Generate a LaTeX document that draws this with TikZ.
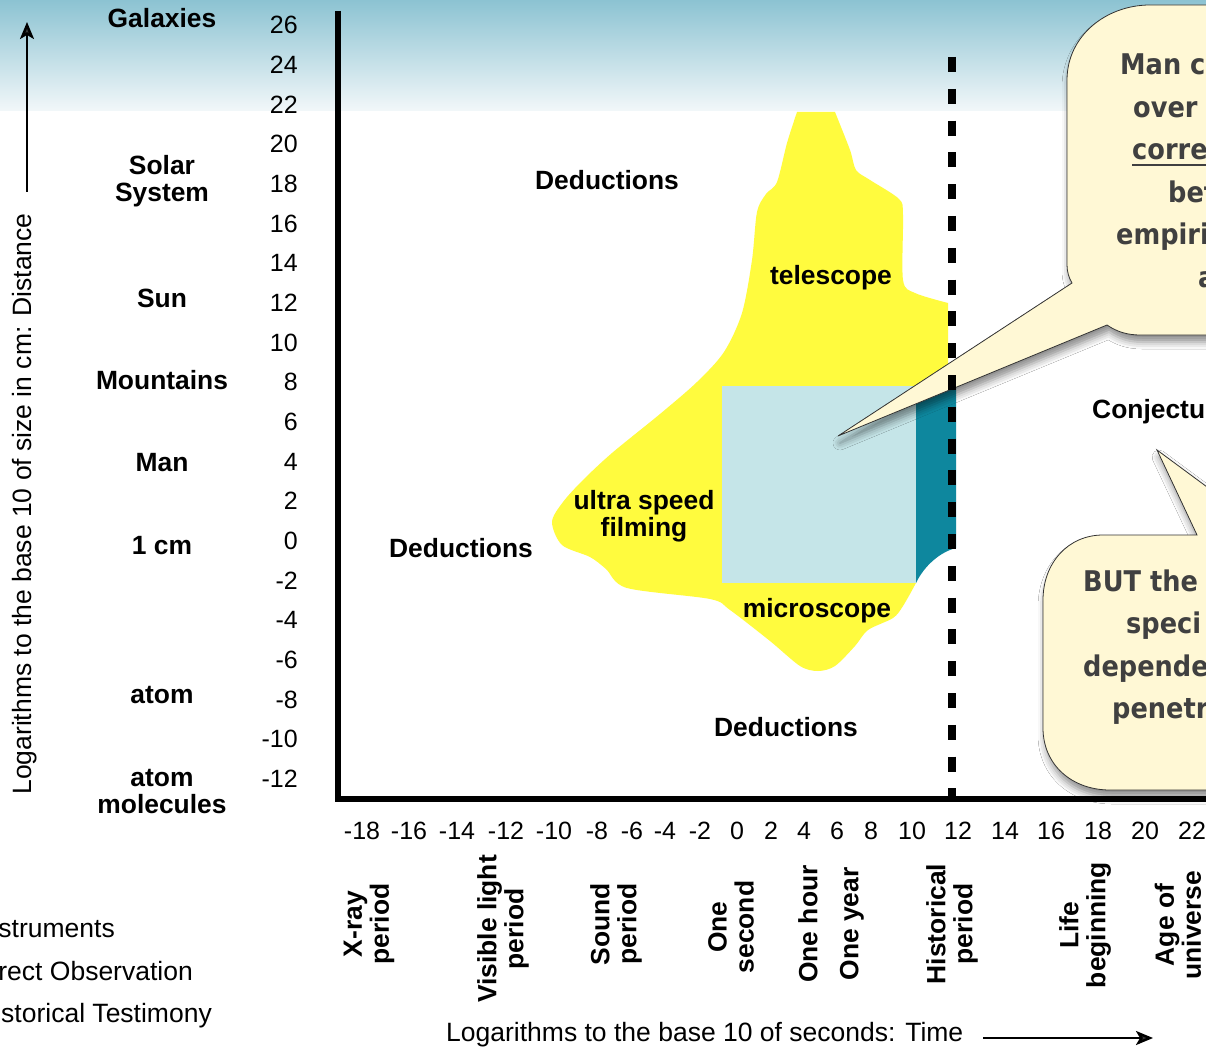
\documentclass[tikz,border=0pt]{standalone}
\usepackage{fontspec}
\setmainfont{Liberation Sans}
\newfontfamily\callfont[FakeStretch=0.9]{DejaVu Sans}
\usetikzlibrary{arrows.meta,shadows.blur}
\definecolor{yel}{RGB}{255,251,62}
\definecolor{lblue}{RGB}{197,229,232}
\definecolor{teal2}{RGB}{14,135,158}
\definecolor{cream}{RGB}{255,248,213}
\definecolor{calltext}{RGB}{64,64,64}
\definecolor{skytop}{RGB}{140,195,210}
\definecolor{skybot}{RGB}{242,247,249}
\begin{document}
\begin{tikzpicture}[x=1pt,y=-1pt,
 lab/.style={font=\fontsize{26.4}{27}\selectfont\bfseries, align=center, inner sep=0pt},
 rlab/.style={lab, rotate=90},
 num/.style={font=\fontsize{25}{26}\selectfont, inner sep=0pt},
 reg/.style={font=\fontsize{26.5}{28}\selectfont, inner sep=0pt},
 ctext/.style={font=\callfont\fontsize{28.5}{30}\selectfont\bfseries, text=calltext, anchor=base west, inner sep=0pt},
 callout/.style={fill=cream, draw=black!80, line width=0.8pt, blur shadow={shadow xshift=2pt, shadow yshift=-7pt, shadow blur radius=7pt, shadow opacity=45}},
 axisline/.style={line width=6.5pt},
 arr/.style={-{Stealth[length=17pt,width=14pt,inset=4pt]}, line width=2.5pt},
]
\useasboundingbox (0,0) rectangle (1206,1048);
\clip (0,0) rectangle (1206,1048);
\fill[white] (0,0) rectangle (1206,1048);
\shade[top color=skytop, bottom color=skybot] (0,0) rectangle (1206,111);

% instrument region
\fill[yel] plot[smooth, tension=0.5] coordinates {(948,303) (915,293) (903,280) (903,215) (899,199) (870,180) (856,170) (850,150) (835,112)}
  -- (797,112)
  -- plot[smooth, tension=0.5] coordinates {(797,112) (787,143) (777,182) (766,194) (757,212) (752,260) (742,313) (724,352) (697,382) (660,414) (612,453) (583,480) (563,502) (552,522) (562,545) (590,557) (606,569) (627,588) (710,599) (730,610) (770,641) (800,666) (818,671) (835,666) (855,646) (868,630) (893,618) (903,606) (916,583)}
  -- (935,420) -- (948,390) -- cycle;
\fill[lblue] (722,386) rectangle (916,583);
\fill[teal2] (916,386) -- (956,386) -- (956,548) .. controls (940,552) and (924,566) .. (916,583) -- cycle;

% region labels
\node[lab] (ded1) at (607,180) {Deductions};
\node[lab] (ded2) at (461,548) {Deductions};
\node[lab] (ded3) at (786,727) {Deductions};
\node[lab] (tel) at (831,278) {telescope};
\node[lab] (ultra) at (644,516) {ultra speed\\filming};
\node[lab] (micro) at (817,611) {microscope};
\node[lab, anchor=west] (conj) at (1092,412) {Conjectu};

% callouts
\path[callout] (1072,283) -- (838,436) -- (1107,325) .. controls (1117,332) and (1128,335) .. (1140,335) -- (1260,335) -- (1260,5) -- (1150,5) .. controls (1106,5) and (1067,36) .. (1067,80) -- (1067,265) .. controls (1067,272) and (1069,278) .. (1072,283) -- cycle;
\path[callout] (1043,600) .. controls (1043,563) and (1068,535) .. (1103,535) -- (1197,535) -- (1157,450) -- (1272,535) -- (1300,535) -- (1300,790) -- (1110,790) .. controls (1072,790) and (1043,765) .. (1043,728) -- cycle;

\node[ctext] (c1a) at (1120,75) {Man c};
\node[ctext] (c1b) at (1133,117.5) {over};
\node[ctext] (c1c) at (1132,160) {corre};
\node[ctext] (c1d) at (1168,202.5) {bet};
\node[ctext] (c1e) at (1116,245) {empiri};
\node[ctext] (c1f) at (1198,287.5) {a};
\draw[calltext, line width=2pt] ([yshift=-5pt]c1c.base west) -- ++(90,0);
\node[ctext] (c2a) at (1083,591) {BUT the};
\node[ctext] (c2b) at (1126,633.5) {speci};
\node[ctext] (c2c) at (1083,676) {depende};
\node[ctext] (c2d) at (1112,718.5) {penetr};

% historical limit
\coordinate (dtop) at (952,57);
\coordinate (dbot) at (952,800);
\draw[line width=8pt, dash pattern=on 15pt off 16.8pt] (dtop) -- (dbot);

% axes
\coordinate (ax0) at (338,11);
\coordinate (ax1) at (338,799);
\coordinate (ax2) at (1210,799);
\draw[axisline, line join=miter] (ax0) -- (ax1) -- (ax2);

% y numbers
\foreach \v [count=\k from 0] in {26,24,...,-12}
  \node[num, anchor=east] (yv\k) at (298,{25+\k*39.68}) {\v};
% x numbers
\foreach \v/\px [count=\k] in {-18/362,-16/409,-14/457,-12/506,-10/554,-8/597,-6/632,-4/665,-2/700,0/737,2/771,4/804,6/837,8/871,10/912,12/958,14/1005,16/1051,18/1098,20/1145,22/1192}
  \node[num] (xv\k) at (\px,831) {\v};

% size labels
\node[lab] (gal) at (162,18) {Galaxies};
\node[lab] (sol) at (162,181) {Solar\\System};
\node[lab] (sun) at (162,298) {Sun};
\node[lab] (mtn) at (162,380) {Mountains};
\node[lab] (man) at (162,463) {Man};
\node[lab] (cm) at (162,546) {1 cm};
\node[lab] (atom) at (162,695) {atom};
\node[lab] (mol) at (162,792) {atom\\molecules};

% time labels
\node[rlab] (t1) at (369,924) {X-ray\\period};
\node[rlab] (t2) at (503,929) {Visible light\\period};
\node[rlab] (t3) at (616,924) {Sound\\period};
\node[rlab] (t4) at (731,927) {One\\second};
\node[rlab] (t5) at (808,924) {One hour};
\node[rlab] (t6) at (852,924) {One year};
\node[rlab] (t7) at (952,924) {Historical\\period};
\node[rlab] (t8) at (1085,925) {Life\\beginning};
\node[rlab] (t9) at (1178,925) {Age of\\universe};

% axis titles
\node[reg, rotate=90] (ytitle) at (25,504) {Logarithms to the base 10 of size in cm: Distance};
\coordinate (ya1) at (27,192);
\coordinate (ya2) at (27,22);
\draw[arr] (ya1) -- (ya2);
\node[reg, anchor=base west] (xtitle) at (446,1041) {Logarithms to the base 10 of seconds: Time};
\coordinate (xa1) at (983,1038);
\coordinate (xa2) at (1153,1038);
\draw[arr] (xa1) -- (xa2);

% legend
\node[reg, anchor=base east] (leg1) at (115,937) {struments};
\node[reg, anchor=base east] (leg2) at (193,980) {rect Observation};
\node[reg, anchor=base east] (leg3) at (212,1022) {storical Testimony};
\end{tikzpicture}
\end{document}
